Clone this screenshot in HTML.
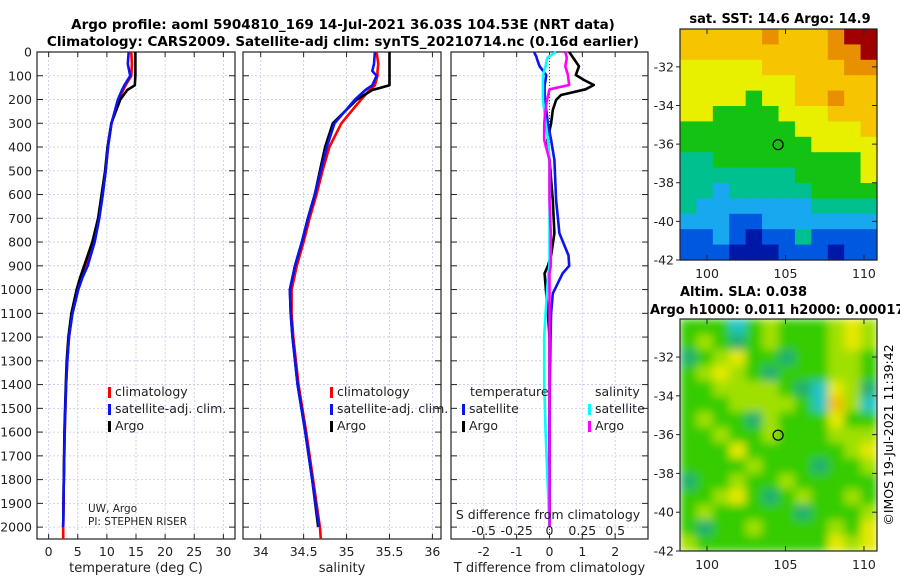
<!DOCTYPE html>
<html><head><meta charset="utf-8"><style>
body{margin:0;background:#fff;width:900px;height:580px;overflow:hidden}
svg{font-family:"DejaVu Sans","Liberation Sans",sans-serif}
</style></head><body>
<svg id="fig" width="900" height="580" viewBox="0 0 900 580">
<defs>
<filter id="blur" x="0" y="0" width="1" height="1"><feGaussianBlur stdDeviation="4.5" edgeMode="duplicate"/></filter>
<clipPath id="slaClip"><rect x="680" y="319" width="197" height="232"/></clipPath>
</defs>
<text x="343" y="29" text-anchor="middle" font-size="13.5" font-weight="bold">Argo profile: aoml 5904810_169 14-Jul-2021 36.03S 104.53E (NRT data)</text>
<text x="343" y="46" text-anchor="middle" font-size="13.5" font-weight="bold">Climatology: CARS2009. Satellite-adj clim: synTS_20210714.nc (0.16d earlier)</text>
<text x="780" y="23" text-anchor="middle" font-size="13" font-weight="bold">sat. SST: 14.6 Argo: 14.9</text>
<text x="680" y="296" font-size="13" font-weight="bold">Altim. SLA: 0.038</text>
<text x="650" y="314" font-size="13" font-weight="bold">Argo h1000: 0.011 h2000: 0.00017</text>
<text transform="translate(893,435) rotate(-90)" text-anchor="middle" font-size="12.5">©IMOS 19-Jul-2021 11:39:42</text>
<g id="g"></g>
</svg>
<script>
// ---------- data ----------
const depT = [0,50,100,140,160,200,300,400,500,600,700,800,900,950,1000,1100,1200,1300,1400,1600,1800,2000];
const argoT = [14.9,14.9,14.9,14.8,13.5,12.3,10.75,10.1,9.7,9.1,8.5,7.5,6.1,5.4,4.8,3.9,3.4,3.1,2.95,2.7,2.6,2.5];
const climT = [14.2,14.3,14.2,13.2,12.8,12.0,10.8,10.2,9.8,9.2,8.6,7.7,6.4,5.6,5.0,4.0,3.5,3.2,3.0,2.75,2.6,2.5];
const satT  = [13.75,13.6,14.0,13.0,12.6,11.9,10.8,10.2,9.8,9.3,8.7,7.9,6.7,5.8,5.1,4.1,3.5,3.2,3.0,2.75,2.6,2.5];
const depS = [0,50,80,100,140,160,200,300,400,500,600,700,800,900,1000,1100,1200,1400,1600,1800,2000];
const argoS = [35.5,35.5,35.5,35.5,35.5,35.3,35.12,34.84,34.75,34.69,34.63,34.55,34.48,34.40,34.34,34.35,34.37,34.43,34.52,34.60,34.67];
const climS = [35.35,35.37,35.36,35.36,35.33,35.27,35.17,34.94,34.80,34.72,34.65,34.57,34.50,34.42,34.36,34.36,34.38,34.44,34.53,34.61,34.69];
const satS  = [35.33,35.32,35.30,35.35,35.3,35.22,35.10,34.86,34.77,34.70,34.63,34.55,34.48,34.40,34.34,34.35,34.37,34.43,34.52,34.60,34.68];
const depD = [0,20,30,60,97,118,139,157,181,202,244,300,370,455,623,763,856,900,932,1016,1100,1200,1300,1400,1600,1800,2000];
const argoTd = [0.6,0.7,0.75,0.9,0.8,1.05,1.35,1.1,0.35,0.2,0.1,0.05,-0.06,0.0,0.1,0.15,0.05,-0.05,-0.15,-0.1,-0.05,0.0,0.0,0.0,0.0,0.0,0.0];
const satTd  = [-0.47,-0.4,-0.38,-0.3,-0.1,-0.12,-0.15,-0.15,-0.15,-0.15,-0.1,-0.05,0.05,0.15,0.2,0.3,0.58,0.6,0.4,0.1,0.05,0.03,0.02,0.01,0.0,0.0,0.0];
const satSd  = [0.05,-0.01,-0.02,-0.03,-0.05,-0.05,-0.05,-0.05,-0.05,-0.05,-0.04,-0.03,-0.01,0.0,0.0,0.0,0.0,0.0,-0.01,-0.02,-0.03,-0.04,-0.04,-0.04,-0.03,-0.015,0.0];
const argoSd = [0.12,0.13,0.13,0.12,0.14,0.145,0.15,0.0,-0.01,-0.02,-0.03,-0.04,-0.04,0.0,0.0,0.01,0.01,0.01,0.0,0.0,0.0,0.0,0.0,0.0,0.0,0.0,0.0];
const depthTicks = [0,100,200,300,400,500,600,700,800,900,1000,1100,1200,1300,1400,1500,1600,1700,1800,1900,2000];
const tTicks = [0,5,10,15,20,25,30];
const sTicks = [34,34.5,35,35.5,36];
const dTicks = [-2,-1,0,1,2];
const sdTicks = [-0.5,-0.25,0,0.25,0.5];
const sdLabels = ["-0.5","-0.25","0","0.25","0.5"];
const sstGrid = [
"777778777899","777777777889","666667777788","666666677777","666656677877",
"665555666777","555555566667","555555556666","445555555556","444444455556",
"443444445555","433333334444","333223333333","223212242222","222111222122"];
const slaGrid = [
"222023222343","232123222343","123422122332","234321222332","223333210431",
"222333320530","232213222422","223223222333","222422222234","222232221223",
"122322322222","223421232232","232222212223","212232222324","322222222434"];
const sstPal = ["#00007f","#0018a8","#0058e0","#18a8f0","#00c090","#14c214","#e8f000","#f6c400","#e89000","#a00000"];
const slaPal = ["#22c4c4","#20b070","#34cc00","#a0e000","#e4e800","#f0c000"];
// ---------- helpers ----------
const NS="http://www.w3.org/2000/svg", G=document.getElementById('g');
function mk(tag,attrs,parent){const e=document.createElementNS(NS,tag);for(const k in attrs)e.setAttribute(k,attrs[k]);(parent||G).appendChild(e);return e;}
const yTop=52, yBot=539, dMax=2050;
const yD = d => yTop + d/dMax*(yBot-yTop);
function panel(name,L,R,xmin,xmax,ticks,labels,xtitle,showY){
  const g=mk('g',{});
  
  
  const xs=v=>L+(v-xmin)/(xmax-xmin)*(R-L);
  ticks.forEach((t,i)=>{
    mk('line',{x1:xs(t),x2:xs(t),y1:yTop,y2:yBot,stroke:'#c4c8e8','stroke-width':0.8,'stroke-dasharray':'2,2'},g);
    mk('line',{x1:xs(t),x2:xs(t),y1:yBot,y2:yBot-5,stroke:'#222'},g);
    mk('line',{x1:xs(t),x2:xs(t),y1:yTop,y2:yTop+5,stroke:'#222'},g);
    if(labels){const tx=mk('text',{x:xs(t),y:556,'text-anchor':'middle','font-size':12.5,fill:'#222'},g);tx.textContent=labels[i];
      
      }
  });
  depthTicks.forEach(d=>{
    mk('line',{x1:L,x2:R,y1:yD(d),y2:yD(d),stroke:'#c4c8e8','stroke-width':0.8,'stroke-dasharray':'2,2'},g);
    mk('line',{x1:L,x2:L+6,y1:yD(d),y2:yD(d),stroke:'#222'},g);
    mk('line',{x1:R-6,x2:R,y1:yD(d),y2:yD(d),stroke:'#222'},g);
    if(showY){const tx=mk('text',{x:32,y:yD(d)+4.5,'text-anchor':'end','font-size':12.5,fill:'#222'},g);tx.textContent=d;
      
      }
  });
  mk('rect',{x:L,y:yTop,width:R-L,height:yBot-yTop,fill:'none',stroke:'#222','stroke-width':1.2},g);
  if(xtitle){const tx=mk('text',{x:(L+R)/2,y:572,'text-anchor':'middle','font-size':13,fill:'#222'},g);tx.textContent=xtitle;
    
    }
  return xs;
}
function line(xs,deps,vals,color,name,w){
  const p=deps.map((d,i)=>xs(vals[i]).toFixed(1)+','+yD(d).toFixed(1)).join(' ');
  const e=mk('polyline',{points:p,fill:'none',stroke:color,'stroke-width':w||2.6,'stroke-linejoin':'round'});
  
  
}
function txt(x,y,s,size,name,anchor){const e=mk('text',{x:x,y:y,'font-size':size,fill:'#222','text-anchor':anchor||'start'});e.textContent=s;
  
  }
function legend(x,y,color,label,name){mk('rect',{x:x,y:y-9,width:3,height:11,fill:color});txt(x+7,y,label,12.5,name);}
// ---------- panel 1 ----------
const x1=panel('temperature-panel',37,235,-2,32,tTicks,tTicks.map(String),'temperature (deg C)',true);
mk('line',{x1:x1(2.5),x2:x1(2.5),y1:yD(2000),y2:yD(2050),stroke:'red','stroke-width':2.6});
line(x1,depT,climT,'red','clim-temperature-line');
line(x1,depT,argoT,'black','argo-temperature-line');
line(x1,depT,satT,'#0a14f0','sat-temperature-line');
legend(108,396,'red','climatology','legend-climatology');
legend(108,413,'#0a14f0','satellite-adj. clim.','legend-satellite');
legend(108,430,'black','Argo','legend-argo');
txt(88,512,'UW, Argo',10.5,'pi-institution');
txt(88,525,'PI: STEPHEN RISER',10.5,'pi-name');
// ---------- panel 2 ----------
const x2=panel('salinity-panel',243,441,33.794,36.1,sTicks,sTicks.map(String),'salinity',false);
mk('line',{x1:x2(34.69),x2:x2(34.7),y1:yD(2000),y2:yD(2050),stroke:'red','stroke-width':2.6});
line(x2,depS,climS,'red','clim-salinity-line');
line(x2,depS,argoS,'black','argo-salinity-line');
line(x2,depS,satS,'#0a14f0','sat-salinity-line');
legend(330,396,'red','climatology','legend-climatology-2');
legend(330,413,'#0a14f0','satellite-adj. clim.','legend-satellite-2');
legend(330,430,'black','Argo','legend-argo-2');
// ---------- panel 3 ----------
const x3=panel('difference-panel',451,648,-3,3,dTicks,dTicks.map(String),'T difference from climatology',false);
const xs3=v=>x3(v*4);
mk('line',{x1:x3(0),x2:x3(0),y1:yTop,y2:yBot,stroke:'#444','stroke-dasharray':'1,2'});
line(x3,depD,argoTd,'black','argo-t-diff-line');
line(x3,depD,satTd,'#0a14f0','sat-t-diff-line');
line(xs3,depD,satSd,'cyan','sat-s-diff-line');
line(xs3,depD,argoSd,'magenta','argo-s-diff-line');
txt(470,396,'temperature',12.5,'legend-temperature-heading');
txt(595,396,'salinity',12.5,'legend-salinity-heading');
legend(462,413,'#0a14f0','satellite','legend-t-satellite');
legend(462,430,'black','Argo','legend-t-argo');
legend(588,413,'cyan','satellite','legend-s-satellite');
legend(588,430,'magenta','Argo','legend-s-argo');
txt(548,519,'S difference from climatology',12.5,'s-axis-title','middle');
sdTicks.forEach((t,i)=>txt(xs3(t),535,sdLabels[i],12.5,'s-tick-label','middle'));
// ---------- maps ----------
const lonMin=98.28, lonMax=110.83, latMax=-30.04, latMin=-42;
function map(name,top,bot,grid,pal,smooth){
  const L=680,R=877;
  const g=mk('g',{});
  
  
  let cellsParent=g;
  if(smooth){const cg=mk('g',{'clip-path':'url(#slaClip)'},g);cellsParent=mk('g',{filter:'url(#blur)'},cg);}
  const rows=grid.length, cols=grid[0].length, cw=(R-L)/cols, ch=(bot-top)/rows;
  grid.forEach((row,r)=>{for(let c=0;c<cols;c++){
    mk('rect',{x:(L+c*cw).toFixed(2),y:(top+r*ch).toFixed(2),width:(cw+0.6).toFixed(2),height:(ch+0.6).toFixed(2),fill:pal[+row[c]]},cellsParent);}});
  const xl=v=>L+(v-lonMin)/(lonMax-lonMin)*(R-L), yl=v=>top+(latMax-v)/(latMax-latMin)*(bot-top);
  [100,105,110].forEach(v=>{mk('line',{x1:xl(v),x2:xl(v),y1:bot,y2:bot-5,stroke:'#222'},g);mk('line',{x1:xl(v),x2:xl(v),y1:top,y2:top+5,stroke:'#222'},g);
    const t=mk('text',{x:xl(v),y:bot+18,'text-anchor':'middle','font-size':12.5,fill:'#222'},g);t.textContent=v;
    
    });
  [-32,-34,-36,-38,-40,-42].forEach(v=>{mk('line',{x1:L,x2:L-4,y1:yl(v),y2:yl(v),stroke:'#222'},g);mk('line',{x1:R,x2:R-5,y1:yl(v),y2:yl(v),stroke:'#222'},g);
    const t=mk('text',{x:L-6,y:yl(v)+4.5,'text-anchor':'end','font-size':12.5,fill:'#222'},g);t.textContent=v;
    
    });
  mk('rect',{x:L,y:top,width:R-L,height:bot-top,fill:'none',stroke:'#222','stroke-width':1.2},g);
  const c=mk('circle',{cx:xl(104.53),cy:yl(-36.03),r:5,fill:'none',stroke:'#000','stroke-width':1.2},g);
  
  
}
map('sst-map',29,260,sstGrid,sstPal,false);
map('sla-map',319,551,slaGrid,slaPal,true);
</script>
</body></html>
